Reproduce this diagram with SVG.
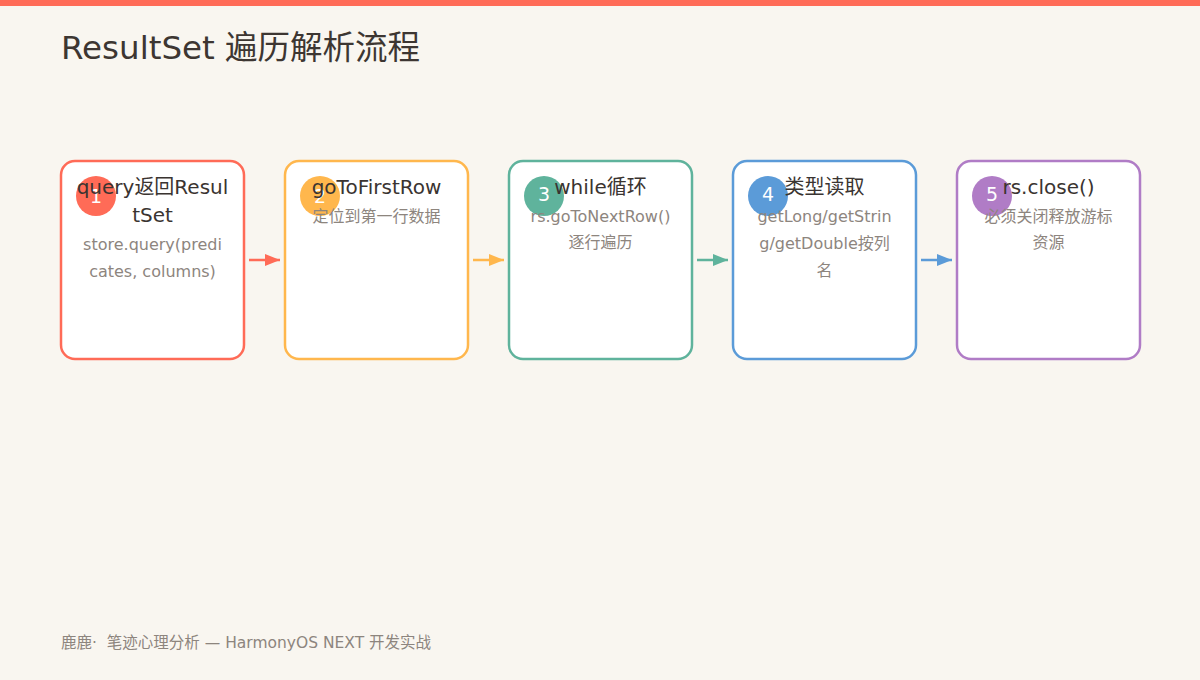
<svg xmlns="http://www.w3.org/2000/svg" width="1200" height="680" viewBox="0 0 1200 680">
<defs>
<style>
.box{fill:#ffffff;stroke-width:2.5}
.num{font-family:"DejaVu Sans","Noto Sans CJK SC",sans-serif;font-size:19px;fill:#ffffff;text-anchor:middle}
.ttl{font-family:"DejaVu Sans","Noto Sans CJK SC",sans-serif;font-size:20px;fill:#3a3431;text-anchor:middle}
.sub{font-family:"DejaVu Sans","Noto Sans CJK SC",sans-serif;font-size:16px;fill:#8d857e;text-anchor:middle}
.conn{stroke-width:2.5;fill:none}
</style>
<marker id="a1" markerWidth="16" markerHeight="12" refX="15" refY="6" orient="auto" markerUnits="userSpaceOnUse"><path d="M0,0 L15,6 L0,12 Z" fill="#FF6B57"/></marker>
<marker id="a2" markerWidth="16" markerHeight="12" refX="15" refY="6" orient="auto" markerUnits="userSpaceOnUse"><path d="M0,0 L15,6 L0,12 Z" fill="#FFB74D"/></marker>
<marker id="a3" markerWidth="16" markerHeight="12" refX="15" refY="6" orient="auto" markerUnits="userSpaceOnUse"><path d="M0,0 L15,6 L0,12 Z" fill="#5FB39C"/></marker>
<marker id="a4" markerWidth="16" markerHeight="12" refX="15" refY="6" orient="auto" markerUnits="userSpaceOnUse"><path d="M0,0 L15,6 L0,12 Z" fill="#5B9BD8"/></marker>
</defs>
<rect x="0" y="0" width="1200" height="680" fill="#F9F6F0"/>
<rect x="0" y="0" width="1200" height="6" fill="#FF6B57"/>
<text x="61" y="59" font-family="DejaVu Sans, Noto Sans CJK SC, sans-serif" font-size="32.5" fill="#3d3632">ResultSet 遍历解析流程</text>

<g id="connectors">
<line class="conn" x1="249" y1="260" x2="280" y2="260" stroke="#FF6B57" marker-end="url(#a1)"/>
<line class="conn" x1="473" y1="260" x2="504" y2="260" stroke="#FFB74D" marker-end="url(#a2)"/>
<line class="conn" x1="697" y1="260" x2="728" y2="260" stroke="#5FB39C" marker-end="url(#a3)"/>
<line class="conn" x1="921" y1="260" x2="952" y2="260" stroke="#5B9BD8" marker-end="url(#a4)"/>
</g>

<g id="node1">
<rect class="box" x="61" y="161" width="183" height="198" rx="14" stroke="#FF6B57"/>
<circle cx="96" cy="196" r="20" fill="#FF6B57"/>
<text class="num" x="96" y="203">1</text>
<text class="ttl" x="152.5" y="194">query返回Resul</text>
<text class="ttl" x="152.5" y="222">tSet</text>
<text class="sub" x="152.5" y="250">store.query(predi</text>
<text class="sub" x="152.5" y="277">cates, columns)</text>
</g>

<g id="node2">
<rect class="box" x="285" y="161" width="183" height="198" rx="14" stroke="#FFB74D"/>
<circle cx="320" cy="196" r="20" fill="#FFB74D"/>
<text class="num" x="320" y="203">2</text>
<text class="ttl" x="376.5" y="194">goToFirstRow</text>
<text class="sub" x="376.5" y="222">定位到第一行数据</text>
</g>

<g id="node3">
<rect class="box" x="509" y="161" width="183" height="198" rx="14" stroke="#5FB39C"/>
<circle cx="544" cy="196" r="20" fill="#5FB39C"/>
<text class="num" x="544" y="201">3</text>
<text class="ttl" x="600.5" y="194">while循环</text>
<text class="sub" x="600.5" y="222">rs.goToNextRow()</text>
<text class="sub" x="600.5" y="248">逐行遍历</text>
</g>

<g id="node4">
<rect class="box" x="733" y="161" width="183" height="198" rx="14" stroke="#5B9BD8"/>
<circle cx="768" cy="196" r="20" fill="#5B9BD8"/>
<text class="num" x="768" y="201">4</text>
<text class="ttl" x="824.5" y="194">类型读取</text>
<text class="sub" x="824.5" y="222">getLong/getStrin</text>
<text class="sub" x="824.5" y="249">g/getDouble按列</text>
<text class="sub" x="824.5" y="276">名</text>
</g>

<g id="node5">
<rect class="box" x="957" y="161" width="183" height="198" rx="14" stroke="#B07CC6"/>
<circle cx="992" cy="196" r="20" fill="#B07CC6"/>
<text class="num" x="992" y="201">5</text>
<text class="ttl" x="1048.5" y="194">rs.close()</text>
<text class="sub" x="1048.5" y="222">必须关闭释放游标</text>
<text class="sub" x="1048.5" y="248">资源</text>
</g>

<text x="61" y="648" font-family="DejaVu Sans, Noto Sans CJK SC, sans-serif" font-size="15.5" fill="#8d857e" xml:space="preserve">鹿鹿·  笔迹心理分析 — HarmonyOS NEXT 开发实战</text>
</svg>
